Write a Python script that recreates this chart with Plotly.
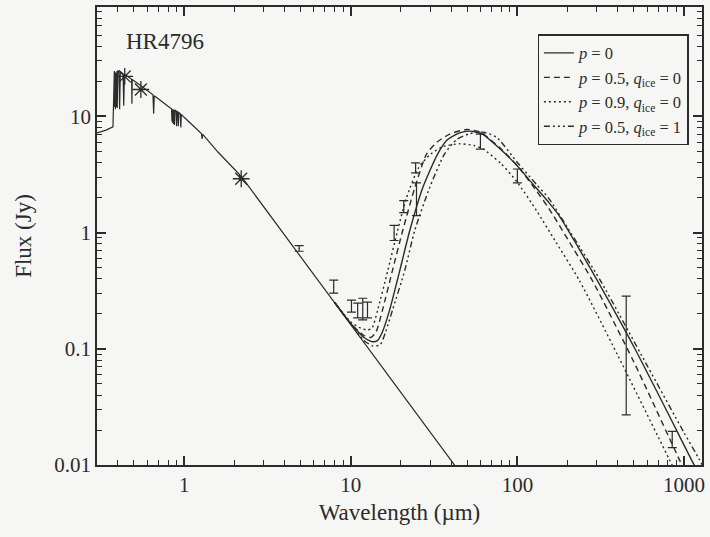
import plotly.graph_objects as go

# ---------------- data ----------------
phot_wl = [0.300, 0.340, 0.374, 0.378, 0.381, 0.383, 0.385, 0.387, 0.389, 0.391,
           0.395, 0.397, 0.399, 0.406, 0.410, 0.414, 0.430, 0.434, 0.438, 0.470,
           0.484, 0.486, 0.488, 0.550, 0.650, 0.656, 0.662, 0.800, 0.840, 0.845,
           0.850, 0.855, 0.860, 0.865, 0.870, 0.875, 0.880, 0.895, 0.901, 0.907,
           0.917, 0.923, 0.929, 0.948, 0.955, 0.962, 1.000, 1.270, 1.282, 1.294,
           1.600, 2.150, 2.166, 2.180, 3.000, 5.000, 8.000, 10.00, 20.00, 44.00]
phot_flux = [7.2, 7.6, 8.1, 22.5, 24.5, 12.0, 24.0, 11.5, 23.5, 12.0,
             24.5, 11.8, 24.5, 24.5, 11.5, 24.3, 23.2, 12.3, 23.0, 21.5,
             20.8, 12.8, 20.7, 18.3, 15.3, 10.5, 15.0, 12.2, 11.6, 9.0,
             11.5, 8.7, 11.5, 8.6, 11.4, 8.4, 11.3, 11.1, 8.2, 11.0,
             10.9, 8.2, 10.8, 10.5, 8.0, 10.4, 9.8, 7.1, 6.4, 7.0,
             4.9, 3.15, 2.8, 3.1, 1.67, 0.62, 0.25, 0.162, 0.042, 0.0091]

phot_pts_wl = [0.44, 0.55, 2.2]
phot_pts_flux = [22.0, 17.0, 2.9]

obs_wl = [4.9, 7.9, 10.1, 11.0, 11.8, 12.6, 18.2, 20.8, 24.5, 24.8, 60.0, 100.0, 450.0, 850.0]
obs_flux = [0.73, 0.342, 0.233, 0.213, 0.219, 0.215, 0.99, 1.66, 3.6, 1.95, 6.1, 3.07, 0.09, 0.0166]
obs_err_up = [0.04, 0.047, 0.029, 0.034, 0.053, 0.037, 0.16, 0.22, 0.37, 0.72, 0.92, 0.45, 0.194, 0.0029]
obs_err_dn = [0.04, 0.041, 0.026, 0.029, 0.042, 0.031, 0.136, 0.18, 0.34, 0.55, 0.88, 0.40, 0.063, 0.0025]

solid_wl = [8, 10, 12, 13.5, 14.5, 15.5, 17.1, 19.7, 22.6, 27.0, 33.2, 38.1, 45, 52, 62,
            78, 100, 123, 155, 178, 230, 301, 500, 800, 1101, 1300]
solid_f = [0.25, 0.165, 0.125, 0.115, 0.118, 0.14, 0.215, 0.473, 1.04, 2.42, 4.73, 6.3, 7.2, 7.45, 7.0,
           5.3, 3.74, 2.64, 1.80, 1.40, 0.76, 0.389, 0.104, 0.028, 0.0113, 0.0072]
dashed_wl = [8, 10, 12, 13.2, 14.2, 15.5, 17.8, 20.5, 24.2, 28.5, 33, 39, 49.5, 60,
             78, 100, 123, 155, 200, 281, 500, 933, 1100]
dashed_f = [0.25, 0.165, 0.13, 0.125, 0.14, 0.215, 0.473, 1.04, 2.42, 4.73, 6.0, 7.0, 7.7, 7.3,
            5.4, 3.75, 2.55, 1.60, 0.88, 0.389, 0.077, 0.0113, 0.0069]
dotted_wl = [8, 10, 11.5, 12.5, 13.4, 14.5, 16.7, 19.1, 21.5, 25.5, 30, 36, 45, 55, 62,
             80, 100, 130, 170, 235, 400, 813, 1000]
dotted_f = [0.25, 0.17, 0.15, 0.145, 0.15, 0.215, 0.473, 1.04, 1.95, 3.6, 4.7, 5.5, 5.8, 5.6, 5.25,
            3.9, 2.7, 1.55, 0.83, 0.389, 0.088, 0.0113, 0.0062]
dashdot_wl = [8, 10, 12, 13.5, 15, 16.2, 17.8, 21.1, 24.2, 29.7, 36.5, 43.1, 52, 62, 75,
              100, 130, 155, 200, 314, 600, 1000, 1230, 1300]
dashdot_f = [0.25, 0.163, 0.118, 0.106, 0.108, 0.14, 0.215, 0.473, 1.04, 2.42, 4.73, 6.3, 7.1, 7.3, 6.6,
             4.0, 2.6, 1.95, 1.1, 0.389, 0.072, 0.019, 0.0113, 0.0097]

legend_names = ["<i>p</i> = 0",
                "<i>p</i> = 0.5, <i>q</i><sub>ice</sub> = 0",
                "<i>p</i> = 0.9, <i>q</i><sub>ice</sub> = 0",
                "<i>p</i> = 0.5, <i>q</i><sub>ice</sub> = 1"]

x_tickvals = [1, 10, 100, 1000]
y_tickvals = [0.01, 0.1, 1, 10]

INK = "#2b2b2b"
BG = "#f6f6f4"
FONT = "Liberation Serif"

fig = go.Figure()
fig.add_trace(go.Scatter(x=phot_wl, y=phot_flux, mode="lines",
                         line=dict(color=INK, width=1.2), showlegend=False))
fig.add_trace(go.Scatter(x=solid_wl, y=solid_f, mode="lines", name=legend_names[0],
                         line=dict(color=INK, width=1.4, shape="spline", smoothing=0.6)))
fig.add_trace(go.Scatter(x=dashed_wl, y=dashed_f, mode="lines", name=legend_names[1],
                         line=dict(color=INK, width=1.4, dash="6px,4px", shape="spline", smoothing=0.6)))
fig.add_trace(go.Scatter(x=dotted_wl, y=dotted_f, mode="lines", name=legend_names[2],
                         line=dict(color=INK, width=1.4, dash="2px,3px", shape="spline", smoothing=0.6)))
fig.add_trace(go.Scatter(x=dashdot_wl, y=dashdot_f, mode="lines", name=legend_names[3],
                         line=dict(color=INK, width=1.4, dash="6px,3px,2px,3px,2px,3px,2px,3px",
                                   shape="spline", smoothing=0.6)))
fig.add_trace(go.Scatter(x=obs_wl, y=obs_flux, mode="markers", marker=dict(size=1, color=INK),
                         error_y=dict(type="data", symmetric=False, array=obs_err_up,
                                      arrayminus=obs_err_dn, color=INK, thickness=1.2, width=4.5),
                         showlegend=False))
fig.add_trace(go.Scatter(x=phot_pts_wl, y=phot_pts_flux, mode="markers",
                         marker=dict(symbol="asterisk-open", size=14, color=INK,
                                     line=dict(color=INK, width=1.3)),
                         showlegend=False))

fig.update_xaxes(type="log", range=[-0.523, 3.108], showline=True, linecolor=INK, linewidth=1.5,
                 mirror="ticks", ticks="inside", ticklen=9, tickwidth=1.5, tickcolor=INK,
                 showgrid=False, zeroline=False, tickmode="array", tickvals=x_tickvals,
                 tickfont=dict(family=FONT, size=21, color=INK),
                 minor=dict(dtick="D1", ticks="inside", ticklen=5, tickwidth=1.3,
                            tickcolor=INK, showgrid=False),
                 title=dict(text="Wavelength (µm)", font=dict(family=FONT, size=23, color=INK),
                            standoff=8))
fig.update_yaxes(type="log", range=[-2, 1.94], showline=True, linecolor=INK, linewidth=1.5,
                 mirror="ticks", ticks="inside", ticklen=9, tickwidth=1.5, tickcolor=INK,
                 showgrid=False, zeroline=False, tickmode="array", tickvals=y_tickvals,
                 tickfont=dict(family=FONT, size=21, color=INK),
                 minor=dict(dtick="D1", ticks="inside", ticklen=5, tickwidth=1.3,
                            tickcolor=INK, showgrid=False),
                 title=dict(text="Flux (Jy)", font=dict(family=FONT, size=23, color=INK),
                            standoff=16))

fig.add_annotation(text="HR4796", xref="paper", yref="paper", x=0.045, y=0.925,
                   xanchor="left", yanchor="middle", showarrow=False,
                   font=dict(family=FONT, size=23, color=INK))

fig.update_layout(width=710, height=537, margin=dict(l=97, r=7, t=5, b=72),
                  paper_bgcolor=BG, plot_bgcolor=BG,
                  legend=dict(x=0.978, y=0.94, xanchor="right", yanchor="top",
                              bgcolor=BG, bordercolor=INK, borderwidth=1.2,
                              font=dict(family=FONT, size=16.5, color=INK), tracegroupgap=0),
                  showlegend=True)

fig.write_html("out.html")
